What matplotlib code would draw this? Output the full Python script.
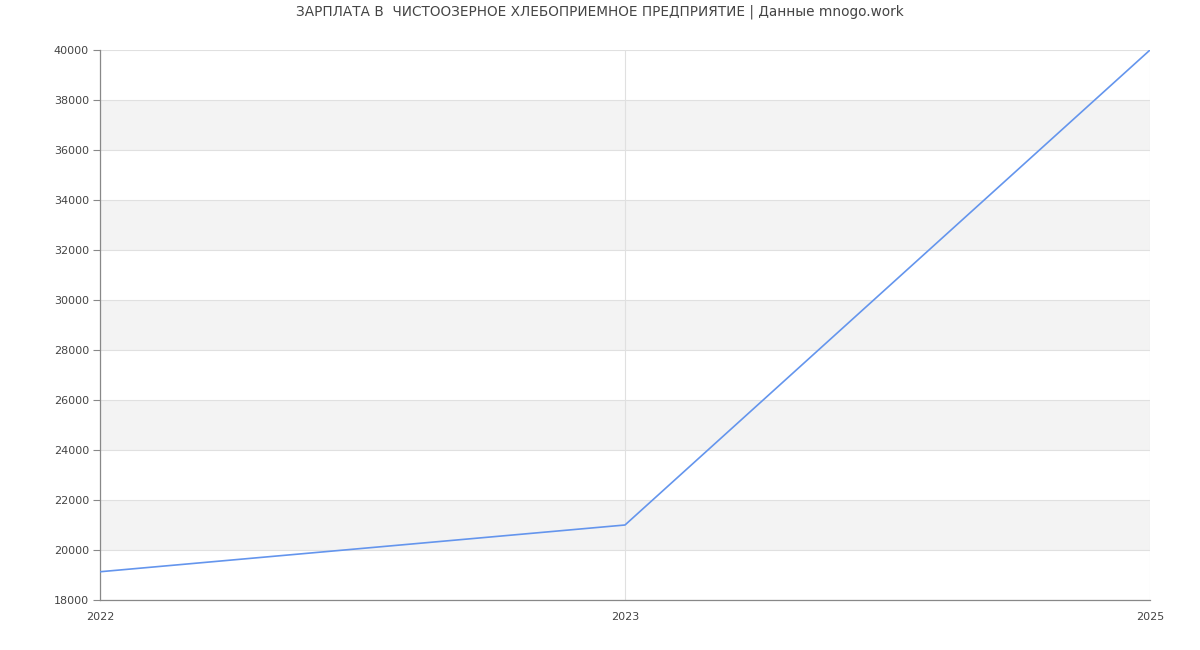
import matplotlib
matplotlib.use("Agg")
import matplotlib.pyplot as plt

years = ["2022", "2023", "2025"]
salaries = [19130, 21000, 40000]
y_ticks = list(range(18000, 40001, 2000))

fig = plt.figure(figsize=(12, 6.5), dpi=100)
ax = fig.add_axes([100/1200, 50/650, 1050/1200, 550/650])
x = list(range(len(years)))

# alternating bands
for lo in range(20000, 40000, 4000):
    ax.axhspan(lo, lo + 2000, color="#f3f3f3", zorder=0, lw=0)
for t in y_ticks:
    ax.axhline(t, color="#e0e0e0", lw=0.8, zorder=1)
for xi in x:
    ax.axvline(xi, color="#e0e0e0", lw=0.8, zorder=1)

ax.plot(x, salaries, color="#6495ed", lw=1.2, zorder=3)

ax.set_xlim(0, len(years) - 1)
ax.set_ylim(18000, 40000)
ax.set_xticks(x)
ax.set_xticklabels(years)
ax.set_yticks(y_ticks)
ax.tick_params(axis="x", length=0, pad=9, labelsize=8, colors="#444444")
ax.tick_params(axis="y", length=5, width=0.8, color="#888888", pad=3, labelsize=8, labelcolor="#444444")
for s in ["top", "right"]:
    ax.spines[s].set_visible(False)
for s in ["left", "bottom"]:
    ax.spines[s].set_color("#888888")
    ax.spines[s].set_linewidth(0.9)

fig.text(0.5, 1 - 12/650, "ЗАРПЛАТА В  ЧИСТООЗЕРНОЕ ХЛЕБОПРИЕМНОЕ ПРЕДПРИЯТИЕ | Данные mnogo.work",
         ha="center", va="center", fontsize=9.8, color="#444444")

fig.savefig("out.png", dpi=100)
